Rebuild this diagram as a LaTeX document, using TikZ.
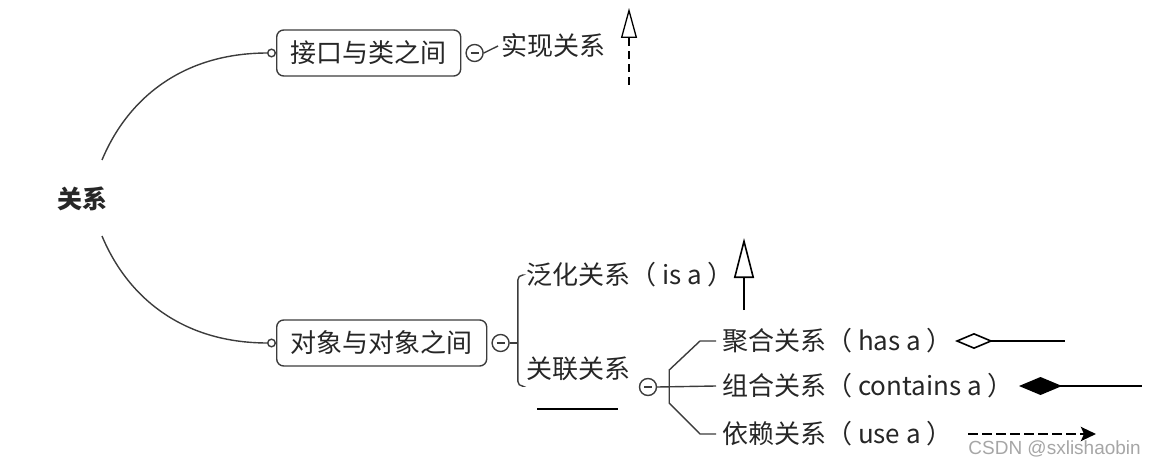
\documentclass[tikz,border=0pt]{standalone}
\usepackage{fontspec}
\setmainfont{Noto Sans CJK SC}
\newfontfamily\markfont{Liberation Sans}
\usepackage{tikz}
\usetikzlibrary{arrows.meta,positioning,calc}

\definecolor{ink}{HTML}{262626}
\definecolor{wire}{HTML}{3C3C3C}

\begin{document}
\begin{tikzpicture}[
        x=1pt, y=-1pt,
        font=\fontsize{26}{30}\selectfont,
        topic/.style={
            draw=wire, rounded corners=7pt, line width=1.4pt,
            minimum height=46pt, inner xsep=14pt, anchor=west,
            text=ink
        },
        leaf/.style={anchor=west, inner sep=0pt, text=ink},
        fold/.style={
            draw=wire, circle, line width=1.4pt, minimum size=17pt, inner sep=0pt,
            path picture={\draw[line width=1.6pt, wire]
                ([xshift=-4pt]path picture bounding box.center) --
                ([xshift=4pt]path picture bounding box.center);}
        },
        branch/.style={draw=wire, line width=1.4pt},
        uml/.style={draw=black, line width=1.6pt},
        knob/.style={-{Circle[open,length=9pt,width=9pt]}}
    ]

    \useasboundingbox (0,0) rectangle (1149,468);

    % Root and topics
    \node[font=\fontsize{25}{28}\selectfont\bfseries, text=ink] (root) at (82,199) {关系};
    \node[topic] (intf) at (276,53) {接口与类之间};
    \node[topic] (objs) at (276,343) {对象与对象之间};

    % Fold markers
    \node[fold, right=4pt of intf] (m1) {};
    \node[fold, right=4pt of objs] (m2) {};
    \node[fold] (m3) at (648,387) {};

    % Leaves
    \node[leaf] (impl)  at (501,46)  {实现关系};
    \node[leaf] (gen)   at (526,275) {泛化关系（ is a ）};
    \node[leaf] (assoc) at (526,369) {关联关系};
    \node[leaf] (agg)   at (722,341) {聚合关系（ has a ）};
    \node[leaf] (comp)  at (722,386) {组合关系（ contains a ）};
    \node[leaf] (dep)   at (722,434) {依赖关系（ use a ）};

    % Root branches
    \draw[branch, knob] ($(root.center)+(20,-39)$)
        .. controls +(25,-60) and +(-95,0) .. (intf.west);
    \draw[branch, knob] ($(root.center)+(20,37)$)
        .. controls +(25,60) and +(-95,0) .. (objs.west);

    % Topic branches
    \draw[branch] (m1.east) -- ([xshift=-3pt]impl.west);
    \draw[branch] (m2.east) -- ++(8,0) coordinate (j2);
    \draw[branch, rounded corners=5pt]
        ([xshift=-4pt]gen.west) -| (j2) |- ([xshift=-4pt,yshift=-5pt]assoc.south west);
    \draw[branch] (m3.east) -- ([xshift=-6pt]comp.west);
    \draw[branch] ([xshift=-6pt]agg.west) -- ++(-16,0)
        -- ($(m3.east)+(12,-17)$) -- ($(m3.east)+(12,16)$)
        -- ($(dep.west)+(-22,0)$) -- ([xshift=-6pt]dep.west);

    % UML notation
    \coordinate (realS) at (629,85);  \coordinate (realT) at (629,8);
    \draw[uml, line width=1.3pt, dash pattern=on 8pt off 5pt] (realS) -- (629,38);
    \draw[uml, line width=1.3pt, -{Triangle[open,length=30pt,width=16pt]}] (629,40) -- (realT);

    \coordinate (genS) at (744,310);  \coordinate (genT) at (744,238);
    \draw[uml, -{Triangle[open,length=40pt,width=20pt]}] (genS) -- (genT);

    \coordinate (assocL) at (537,409); \coordinate (assocR) at (618,409);
    \draw[uml, line width=1.8pt] (assocL) -- (assocR);

    \coordinate (aggL) at (955,341); \coordinate (aggR) at (1065,341);
    \draw[uml, {Diamond[open,length=38pt,width=16pt]}-] (aggL) -- (aggR);

    \coordinate (compL) at (1019,386); \coordinate (compR) at (1142,386);
    \draw[uml, {Diamond[length=43pt,width=18pt]}-] (compL) -- (compR);

    \coordinate (depL) at (968,434); \coordinate (depR) at (1096,434);
    \draw[uml, line width=2.8pt, dash pattern=on 10pt off 4pt,
          -{Stealth[length=15pt,width=14pt,inset=3pt]}] (depL) -- (depR);

    % Watermark
    \node[anchor=east, font=\markfont\fontsize{19}{21}\selectfont, text=black!35, inner sep=0pt]
        (mark) at (1141,449) {CSDN @sxlishaobin};

\end{tikzpicture}
\end{document}
